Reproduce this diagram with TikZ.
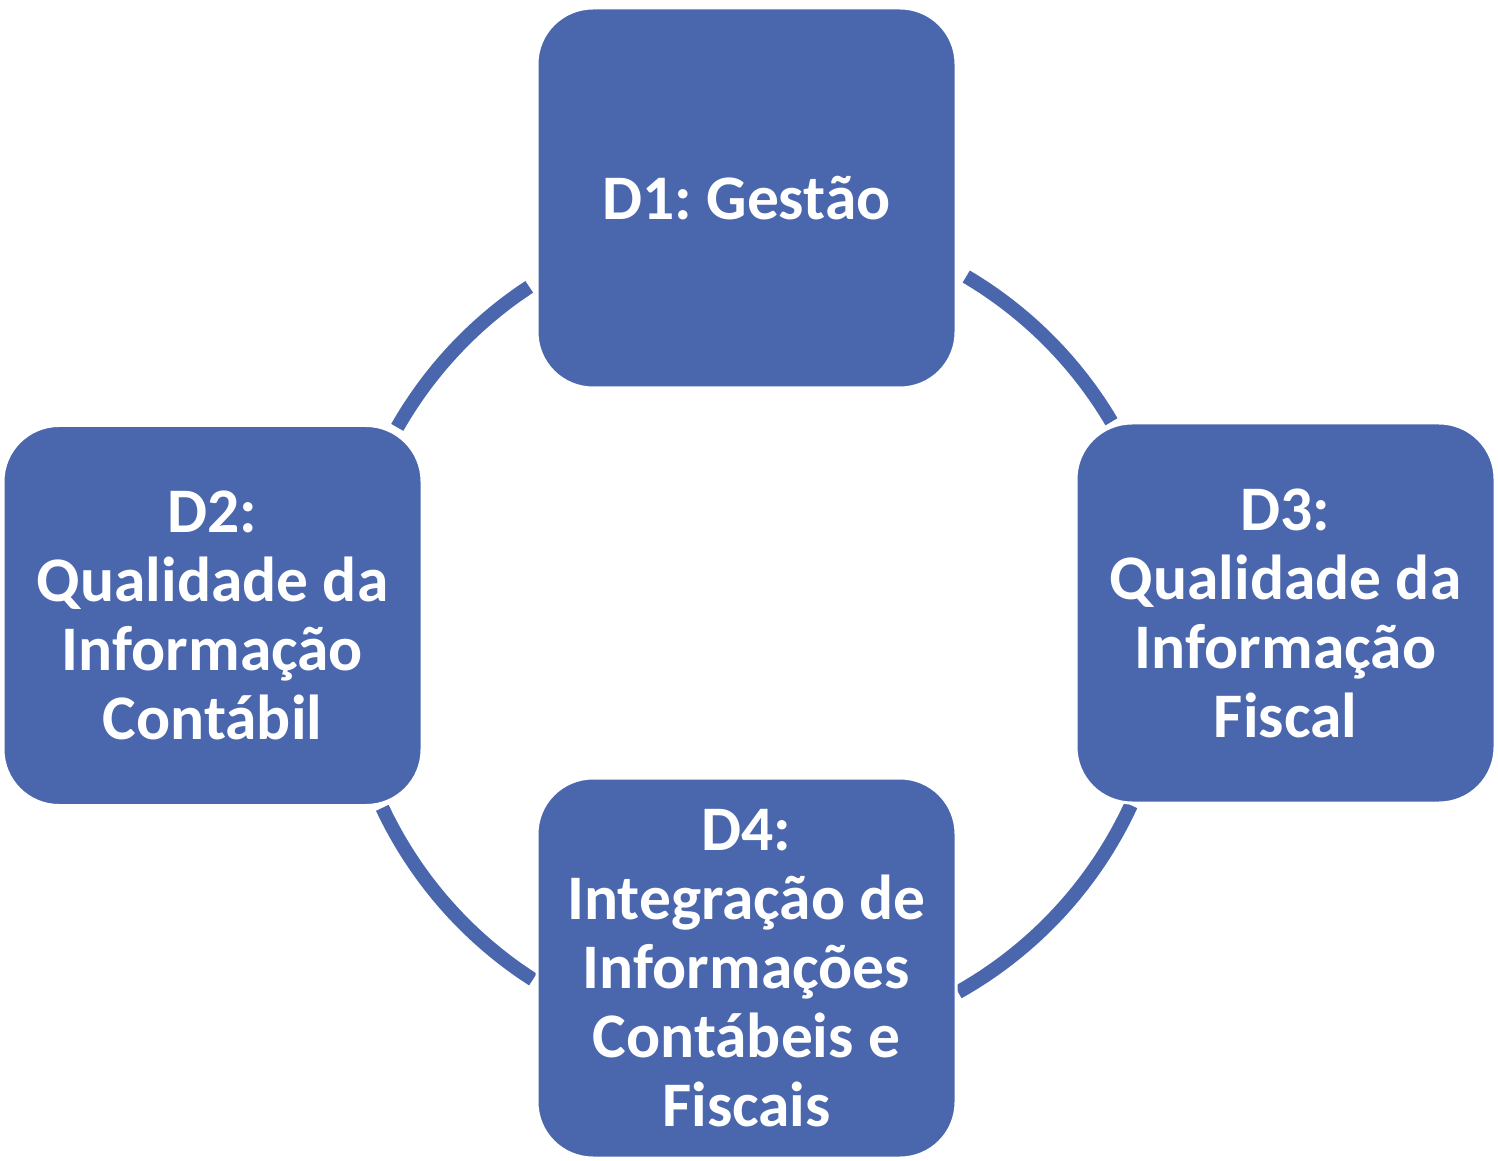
\documentclass[tikz,border=0pt]{standalone}
\usepackage{fontspec}
\setmainfont{Carlito}
\usepackage{xcolor}
\usepackage{tikz}
\frenchspacing
\definecolor{dimblue}{RGB}{74,103,174}
\tikzstyle{dimension}=[
    rectangle,
    rounded corners=56pt,
    fill=dimblue,
    draw=white,
    line width=3pt,
    minimum width=419pt,
    minimum height=380pt,
    inner sep=0pt,
    text=white,
    text width=410pt,
    align=flush center,
    font=\fontsize{63.5}{69}\selectfont\bfseries]
\tikzstyle{ring}=[
    draw=dimblue,
    line width=14pt]

\begin{document}
\begin{tikzpicture}[x=1pt,y=1pt]
    \useasboundingbox (0,0) rectangle (1498,1160);
    \coordinate (hub) at (756,528);

    % circle pieces between the four boxes
    \foreach \from/\to in {59.4/30.6, -24.8/-60.7, 237.3/205.2, 150.3/123.3}
      \draw[ring] ([shift={(\from:413)}]hub) arc[start angle=\from, end angle=\to, radius=413];

    \node[dimension] (gestao) at (746.5,962) {D1: Gestão};
    \node[dimension] (contabil) at (212.5,544.5) {D2:\\Qualidade da\\Informação\\Contábil};
    \node[dimension] (fiscal) at (1285.5,547) {D3:\\Qualidade da\\Informação\\Fiscal};
    \node[dimension] (integracao) at (746.5,192) {D4:\\Integração de\\Informações\\Contábeis e\\Fiscais};
  \end{tikzpicture}
\end{document}
